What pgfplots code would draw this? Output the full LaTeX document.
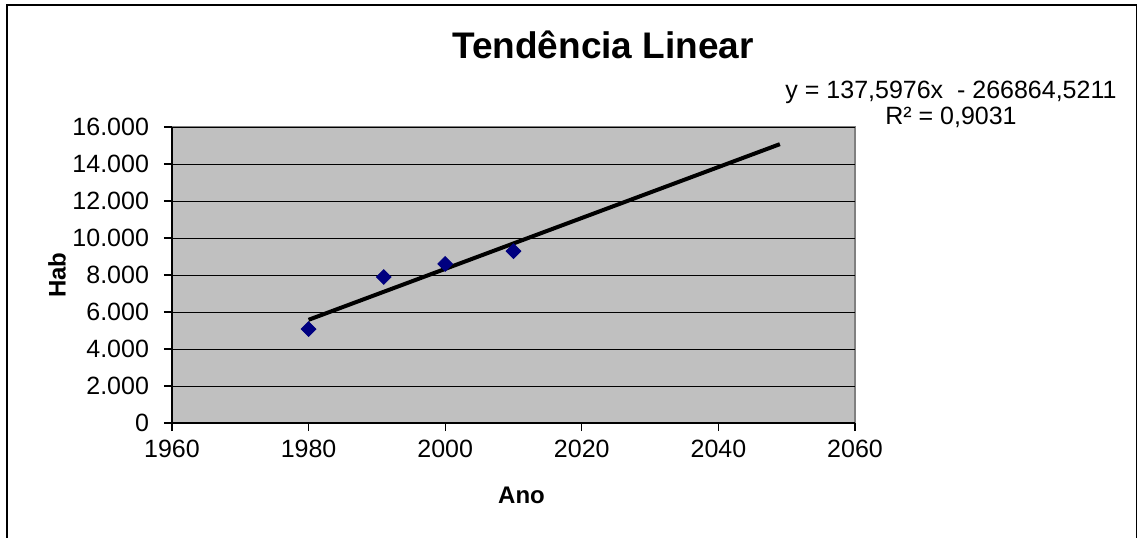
\documentclass[border=0pt]{standalone}
\usepackage{fontspec}
\setmainfont{Liberation Sans}
\usepackage{pgfplots}
\pgfplotsset{compat=1.18}
\definecolor{plotgray}{HTML}{C0C0C0}
\definecolor{navymark}{HTML}{000080}
\begin{document}
\begin{tikzpicture}
\path[use as bounding box] (-86pt,-57pt) rectangle (483pt,211.5pt);
\fill[white] (-86pt,-57pt) rectangle (483pt,211.5pt);
\draw[black, line width=0.7pt] (-82.5pt,-70pt) -- (-82.5pt,209pt) -- (482.3pt,209pt) -- (482.3pt,-70pt);
\begin{axis}[
  at={(0,0)}, anchor=south west,
  scale only axis, width=341.5pt, height=148pt,
  xmin=1960, xmax=2060, ymin=0, ymax=16000,
  xtick={1960,1980,...,2060},
  ytick={0,2000,...,16000},
  scaled y ticks=false, scaled x ticks=false,
  axis x line*=bottom, axis y line*=left,
  axis line style={-, black, line width=0.6pt},
  axis background/.style={fill=plotgray, draw=gray, line width=0.6pt},
  tick align=outside, major tick length=4pt,
  tick style={black, line width=0.6pt},
  ymajorgrids, grid style={black, line width=0.5pt},
  /pgf/number format/assume math mode=true,
  yticklabel style={xshift=-4pt, /pgf/number format/1000 sep={.}, /pgf/number format/fixed},
  xticklabel style={yshift=-1pt, /pgf/number format/1000 sep={}},
  tick label style={font=\fontsize{12.5}{15}\selectfont},
  xlabel={\textbf{Ano}},
  ylabel={\textbf{Hab}},
  xlabel style={at={(axis description cs:0.5,0)}, anchor=center, yshift=-36pt, xshift=4pt, font=\fontsize{12}{14}\selectfont},
  ylabel style={at={(axis description cs:0,0.5)}, anchor=center, yshift=57.5pt, font=\fontsize{12}{14}\selectfont},
  clip=false,
]
\addplot[black, line width=2pt, no marks] coordinates {(1980,5578.7) (2049,15073.0)};
\addplot[only marks, mark=square*, mark size=2.6pt, mark options={rotate=45, fill=navymark, draw=navymark}] coordinates {
(1980,5080) (1991,7890) (2000,8600) (2010,9290)};
\end{axis}
\node[font=\bfseries\fontsize{18.5}{22}\selectfont] at (215.5pt,189pt) {Tendência Linear};
\node[font=\fontsize{12.5}{15}\selectfont] at (389.5pt,165.5pt) {y = 137,5976x\ \ - 266864,5211};
\node[font=\fontsize{12.5}{15}\selectfont] at (389.5pt,153pt) {R² = 0,9031};
\end{tikzpicture}
\end{document}
